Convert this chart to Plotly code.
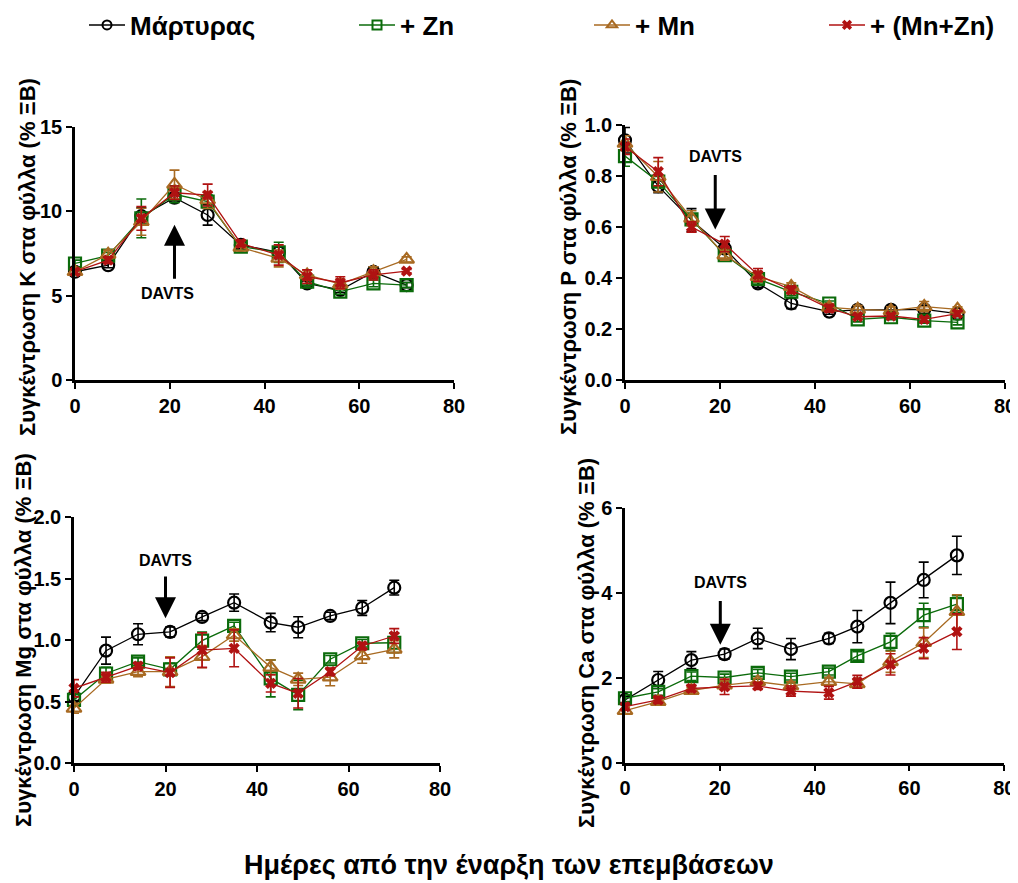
import plotly.graph_objects as go

# ---------------- data ----------------
days = [0, 7, 14, 21, 28, 35, 43, 49, 56, 63, 70]
series_names = ["Μάρτυρας", "+ Zn", "+ Mn", "+ (Mn+Zn)"]

# K (% DW)
K_control = [6.41, 6.80, 9.70, 10.80, 9.77, 8.00, 7.56, 5.72, 5.33, 6.40, 5.62]
K_zn      = [6.90, 7.36, 9.57, 11.00, 10.56, 7.90, 7.56, 5.82, 5.23, 5.72, 5.62]
K_mn      = [6.41, 7.44, 9.37, 11.58, 10.66, 7.85, 7.20, 6.22, 5.68, 6.41, 7.14]
K_mnzn    = [6.41, 7.10, 9.57, 11.09, 10.95, 8.09, 7.40, 6.12, 5.76, 6.22, 6.45]
K_control_err = [0.15, 0.15, 0.50, 0.20, 0.60, 0.20, 0.30, 0.15, 0.15, 0.30, 0.15]
K_zn_err      = [0.20, 0.20, 1.15, 0.50, 0.40, 0.20, 0.60, 0.20, 0.15, 0.20, 0.15]
K_mn_err      = [0.20, 0.25, 0.80, 0.85, 0.50, 0.20, 0.50, 0.30, 0.30, 0.30, 0.15]
K_mnzn_err    = [0.15, 0.20, 0.70, 0.40, 0.65, 0.20, 0.60, 0.40, 0.35, 0.30, 0.10]

# P (% DW)
P_control = [0.940, 0.760, 0.627, 0.516, 0.379, 0.300, 0.268, 0.275, 0.275, 0.277, 0.260]
P_zn      = [0.878, 0.778, 0.630, 0.490, 0.396, 0.346, 0.300, 0.238, 0.246, 0.233, 0.226]
P_mn      = [0.928, 0.797, 0.634, 0.490, 0.405, 0.366, 0.285, 0.277, 0.272, 0.288, 0.277]
P_mnzn    = [0.915, 0.817, 0.600, 0.533, 0.412, 0.353, 0.281, 0.248, 0.251, 0.238, 0.260]
P_control_err = [0.050, 0.025, 0.045, 0.020, 0.015, 0.020, 0.010, 0.015, 0.015, 0.015, 0.010]
P_zn_err      = [0.040, 0.020, 0.020, 0.015, 0.015, 0.015, 0.010, 0.010, 0.010, 0.010, 0.010]
P_mn_err      = [0.030, 0.060, 0.030, 0.020, 0.020, 0.015, 0.015, 0.015, 0.015, 0.020, 0.010]
P_mnzn_err    = [0.030, 0.055, 0.020, 0.030, 0.025, 0.015, 0.015, 0.010, 0.010, 0.010, 0.010]

# Mg (% DW)
Mg_control = [0.54, 0.916, 1.049, 1.068, 1.19, 1.306, 1.144, 1.106, 1.198, 1.263, 1.428]
Mg_zn      = [0.515, 0.73, 0.827, 0.764, 0.997, 1.117, 0.69, 0.556, 0.846, 0.976, 0.98]
Mg_mn      = [0.447, 0.683, 0.745, 0.745, 0.867, 1.043, 0.78, 0.683, 0.70, 0.873, 0.927]
Mg_mnzn    = [0.61, 0.70, 0.79, 0.737, 0.92, 0.935, 0.65, 0.569, 0.745, 0.954, 1.035]
Mg_control_err = [0.03, 0.11, 0.085, 0.04, 0.03, 0.07, 0.075, 0.085, 0.03, 0.06, 0.06]
Mg_zn_err      = [0.03, 0.05, 0.03, 0.05, 0.07, 0.03, 0.15, 0.12, 0.03, 0.03, 0.08]
Mg_mn_err      = [0.04, 0.03, 0.04, 0.12, 0.09, 0.05, 0.06, 0.05, 0.07, 0.06, 0.07]
Mg_mnzn_err    = [0.07, 0.04, 0.03, 0.12, 0.14, 0.15, 0.07, 0.12, 0.03, 0.03, 0.06]

# Ca (% DW)
Ca_control = [1.48, 1.95, 2.42, 2.56, 2.93, 2.68, 2.93, 3.21, 3.77, 4.31, 4.89]
Ca_zn      = [1.52, 1.67, 2.04, 2.01, 2.12, 2.03, 2.15, 2.52, 2.85, 3.48, 3.74]
Ca_mn      = [1.23, 1.44, 1.70, 1.83, 1.91, 1.81, 1.91, 1.86, 2.38, 2.83, 3.56]
Ca_mnzn    = [1.32, 1.48, 1.75, 1.79, 1.81, 1.69, 1.65, 1.91, 2.32, 2.70, 3.09]
Ca_control_err = [0.08, 0.20, 0.20, 0.12, 0.24, 0.25, 0.12, 0.38, 0.49, 0.42, 0.45]
Ca_zn_err      = [0.08, 0.08, 0.10, 0.08, 0.08, 0.08, 0.08, 0.10, 0.20, 0.28, 0.20]
Ca_mn_err      = [0.08, 0.08, 0.08, 0.10, 0.08, 0.10, 0.10, 0.10, 0.25, 0.35, 0.40]
Ca_mnzn_err    = [0.08, 0.08, 0.08, 0.18, 0.08, 0.12, 0.15, 0.15, 0.25, 0.25, 0.42]

x_ticks = [0, 20, 40, 60, 80]
x_title = "Ημέρες από την έναρξη των επεμβάσεων"
y_titles = ["Συγκέντρωση K στα φύλλα (% ΞΒ)", "Συγκέντρωση P στα φύλλα (% ΞΒ)",
            "Συγκέντρωση Mg στα φύλλα (% ΞΒ)", "Συγκέντρωση Ca στα φύλλα (% ΞΒ)"]
arrow_label = "DAVTS"

# ---------------- style / layout helpers ----------------
FONT = "Liberation Sans, Arial, Helvetica, sans-serif"
colors = ["#000000", "#0b6b0b", "#a86a22", "#b01212"]
symbols = ["circle-open", "square-open", "triangle-up-open", "x"]
msizes = [12, 12, 13, 10]
mlw = [2.2, 2.2, 2.2, 0]

# page body has an 8px margin; size the figure so it fits the 1018x883 window
OFF = 8
W, H = 1018 - OFF, 883 - OFF


def xp(px):
    return (px - OFF) / W


def yp(py):
    return 1 - (py - OFF) / H


panels = [
    dict(vals=[K_control, K_zn, K_mn, K_mnzn], errs=[K_control_err, K_zn_err, K_mn_err, K_mnzn_err],
         xd=[xp(75), xp(454)], yd=[yp(380), yp(126.7)], yr=[0, 15], dt=5, fmt="d"),
    dict(vals=[P_control, P_zn, P_mn, P_mnzn], errs=[P_control_err, P_zn_err, P_mn_err, P_mnzn_err],
         xd=[xp(625), xp(1005)], yd=[yp(380), yp(125)], yr=[0, 1.0], dt=0.2, fmt=".1f"),
    dict(vals=[Mg_control, Mg_zn, Mg_mn, Mg_mnzn], errs=[Mg_control_err, Mg_zn_err, Mg_mn_err, Mg_mnzn_err],
         xd=[xp(74), xp(440)], yd=[yp(763.3), yp(517.3)], yr=[0, 2.0], dt=0.5, fmt=".1f"),
    dict(vals=[Ca_control, Ca_zn, Ca_mn, Ca_mnzn], errs=[Ca_control_err, Ca_zn_err, Ca_mn_err, Ca_mnzn_err],
         xd=[xp(625), xp(1004.3)], yd=[yp(762.7), yp(508.3)], yr=[0, 6], dt=2, fmt="d"),
]

fig = go.Figure()
layout = {}
for p_i, p in enumerate(panels):
    n = "" if p_i == 0 else str(p_i + 1)
    xa, ya = "x" + n, "y" + n
    for s_i in range(4):
        fig.add_trace(go.Scatter(
            x=days, y=p["vals"][s_i], xaxis=xa, yaxis=ya, mode="lines+markers",
            line=dict(color=colors[s_i], width=1.3),
            marker=dict(symbol=symbols[s_i], size=msizes[s_i], color=colors[s_i],
                        line=dict(color=colors[s_i], width=mlw[s_i])),
            error_y=dict(type="data", array=p["errs"][s_i], visible=True,
                         color=colors[s_i], thickness=1.6, width=5),
            cliponaxis=False, showlegend=False, name=series_names[s_i]))
    axis_common = dict(showline=True, linecolor="black", linewidth=2.5, ticks="outside",
                       ticklen=6, tickwidth=2, tickcolor="black", showgrid=False, zeroline=False,
                       automargin=False, ticklabeloverflow="allow",
                       tickfont=dict(family=FONT, size=20, color="black", weight="bold"))
    layout["xaxis" + n] = dict(domain=p["xd"], anchor=ya, range=[0, 80], tickvals=x_ticks, **axis_common)
    layout["yaxis" + n] = dict(domain=p["yd"], anchor=xa, range=p["yr"], dtick=p["dt"],
                               tickformat=p["fmt"], **axis_common)

# legend-only traces (small markers like the reference legend)
legend_px = [84, 354, 589, 824]
for s_i in range(4):
    lg = "legend" if s_i == 0 else "legend" + str(s_i + 1)
    fig.add_trace(go.Scatter(
        x=[None], y=[None], mode="lines+markers", name=series_names[s_i], legend=lg,
        line=dict(color=colors[s_i], width=1.5),
        marker=dict(symbol=symbols[s_i], size=9, color=colors[s_i],
                    line=dict(color=colors[s_i], width=2 if s_i < 3 else 0)),
        showlegend=True))
    layout[lg] = dict(x=xp(legend_px[s_i]), y=yp(25), xanchor="left", yanchor="middle",
                      orientation="h", bgcolor="rgba(0,0,0,0)", borderwidth=0, itemwidth=36,
                      font=dict(family=FONT, size=26, color="black", weight="bold"))

annotations = []
# y-axis titles
ytitle_pos = [(27, 257), (568, 257), (23, 640), (586, 643)]
for t, (px, py) in zip(y_titles, ytitle_pos):
    annotations.append(dict(text=t, xref="paper", yref="paper", x=xp(px), y=yp(py),
                            xanchor="center", yanchor="middle", textangle=-90, showarrow=False,
                            font=dict(family=FONT, size=22, color="black", weight="bold")))
# x title
annotations.append(dict(text=x_title, xref="paper", yref="paper", x=xp(509), y=yp(865),
                        xanchor="center", yanchor="middle", showarrow=False,
                        font=dict(family=FONT, size=27, color="black", weight="bold")))
# DAVTS labels and arrows: (axis suffix, label x, label y, arrow x, tail y, head y)
davts = [("", 19.6, 5.1, 21, 5.9, 9.2),
         ("2", 19.0, 0.878, 19, 0.81, 0.59),
         ("3", 20.0, 1.645, 20, 1.53, 1.18),
         ("4", 20.1, 4.25, 20.1, 3.85, 2.78)]
for n, lx, ly, axx, ty, hy in davts:
    annotations.append(dict(text=arrow_label, xref="x" + n, yref="y" + n, x=lx, y=ly,
                            showarrow=False, xanchor="center", yanchor="middle",
                            font=dict(family=FONT, size=16, color="black", weight="bold")))
    annotations.append(dict(text="", xref="x" + n, yref="y" + n, x=axx, y=hy,
                            axref="x" + n, ayref="y" + n, ax=axx, ay=ty,
                            showarrow=True, arrowhead=2, arrowsize=1.4, arrowwidth=3,
                            arrowcolor="black", standoff=0, startstandoff=0))

fig.update_layout(
    template="none",
    width=W, height=H, margin=dict(l=0, r=0, t=0, b=0, autoexpand=False),
    paper_bgcolor="white", plot_bgcolor="white",
    annotations=annotations, **layout)

fig.write_html("out.html")
